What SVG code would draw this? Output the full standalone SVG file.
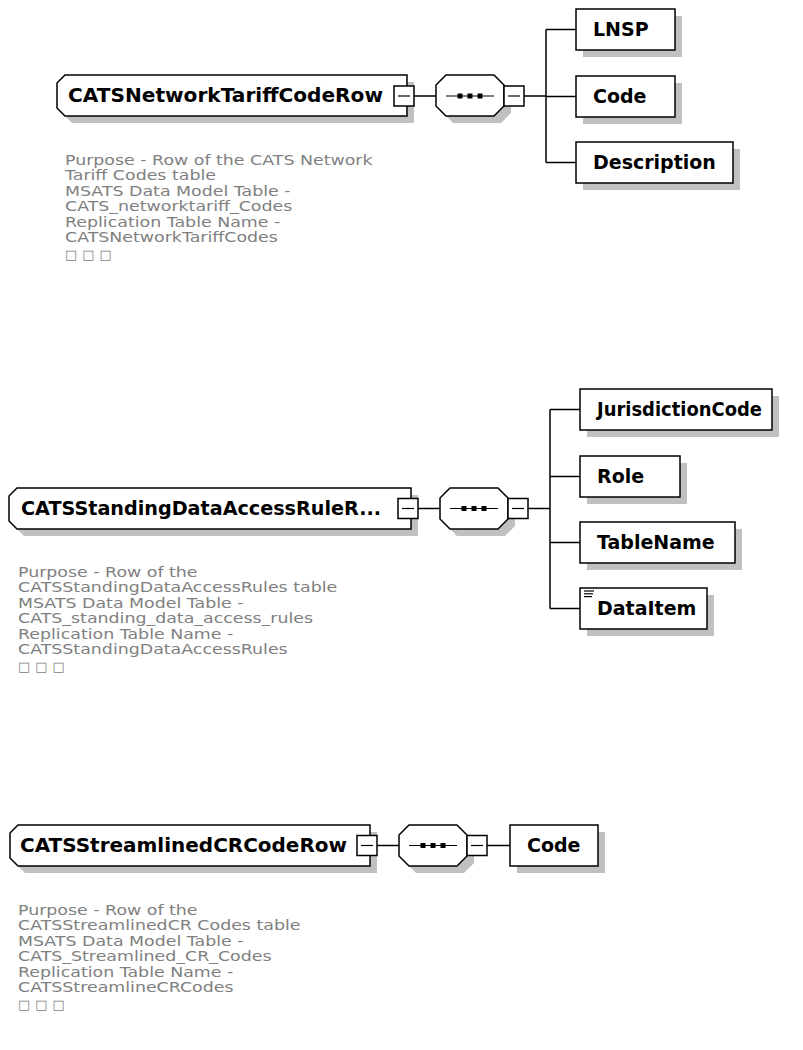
<svg xmlns="http://www.w3.org/2000/svg" width="803" height="1050" viewBox="0 0 803 1050">
<style>
.bg{fill:#ffffff}
.shape{fill:#ffffff;stroke:#000000;stroke-width:1.5}
.shadow{fill:#c0c0c0;stroke:none}
.line{stroke:#000000;stroke-width:1.5;fill:none}
.thin{stroke:#000000;stroke-width:1.2;fill:none}
.dot{fill:#000000}
.name{font-family:"DejaVu Sans",Verdana,sans-serif;font-weight:bold;font-size:19px;fill:#000000}
.main{font-family:"DejaVu Sans",Verdana,sans-serif;font-weight:bold;font-size:19.5px;fill:#000000}
.doc{font-family:"DejaVu Sans",Verdana,sans-serif;font-size:14.5px;fill:#808080}
.sq{font-family:"DejaVu Sans",sans-serif;font-size:13px;letter-spacing:5px;fill:#808080}
</style>
<defs>
<g id="minus"><rect class="shape" x="0" y="0" width="20" height="20"/><line class="thin" x1="4" y1="10" x2="16" y2="10"/></g>
<g id="seqicon"><line class="thin" x1="-24" y1="0" x2="24" y2="0"/><rect class="dot" x="-12.5" y="-2.5" width="5" height="5"/><rect class="dot" x="-2.5" y="-2.5" width="5" height="5"/><rect class="dot" x="7.5" y="-2.5" width="5" height="5"/></g>
</defs>
<rect class="bg" x="0" y="0" width="803" height="1050"/>

<!-- connectors -->
<g id="connectors">
<line class="line" x1="414" y1="96" x2="436" y2="96"/>
<line class="line" x1="524" y1="96" x2="546" y2="96"/>
<line class="line" x1="546" y1="29.5" x2="546" y2="162.5"/>
<line class="line" x1="546" y1="29.5" x2="576" y2="29.5"/>
<line class="line" x1="546" y1="96.5" x2="576" y2="96.5"/>
<line class="line" x1="546" y1="162.5" x2="576" y2="162.5"/>

<line class="line" x1="418" y1="508.5" x2="440" y2="508.5"/>
<line class="line" x1="528" y1="508.5" x2="550" y2="508.5"/>
<line class="line" x1="550" y1="409.5" x2="550" y2="608.5"/>
<line class="line" x1="550" y1="409.5" x2="580" y2="409.5"/>
<line class="line" x1="550" y1="476.5" x2="580" y2="476.5"/>
<line class="line" x1="550" y1="542.5" x2="580" y2="542.5"/>
<line class="line" x1="550" y1="608.5" x2="580" y2="608.5"/>

<line class="line" x1="377" y1="845.5" x2="399" y2="845.5"/>
<line class="line" x1="487" y1="845.5" x2="510" y2="845.5"/>
</g>

<!-- Row 1 -->
<g id="CATSNetworkTariffCodeRow">
<path class="shadow" d="M72,82 H414 V123 H72 L64,115 V90 Z"/>
<path class="shape" d="M65,75 H407 V116 H65 L57,108 V83 Z"/>
<text class="main" x="68" y="102" textLength="315" lengthAdjust="spacingAndGlyphs">CATSNetworkTariffCodeRow</text>
<use href="#minus" x="394" y="86"/>
<g transform="translate(65,0) scale(1.2,1)">
<text class="doc" x="0" y="165">Purpose - Row of the CATS Network</text>
<text class="doc" x="0" y="180.5">Tariff Codes table</text>
<text class="doc" x="0" y="196">MSATS Data Model Table -</text>
<text class="doc" x="0" y="211.5">CATS_networktariff_Codes</text>
<text class="doc" x="0" y="227">Replication Table Name -</text>
<text class="doc" x="0" y="242.5">CATSNetworkTariffCodes</text>
</g>
<text class="sq" x="65" y="259">□□□</text>
</g>
<g id="seq1">
<path class="shadow" d="M453,82 H501 L511,92 V113 L501,123 H453 L443,113 V92 Z"/>
<path class="shape" d="M446,75 H494 L504,85 V106 L494,116 H446 L436,106 V85 Z"/>
<use href="#seqicon" x="470" y="96"/>
<use href="#minus" x="504" y="86"/>
</g>
<g id="LNSP">
<rect class="shadow" x="583" y="16" width="99" height="41"/>
<rect class="shape" x="576" y="9" width="99" height="41"/>
<text class="name" x="593" y="36">LNSP</text>
</g>
<g id="Code1">
<rect class="shadow" x="583" y="83" width="99" height="41"/>
<rect class="shape" x="576" y="76" width="99" height="41"/>
<text class="name" x="593" y="103">Code</text>
</g>
<g id="Description">
<rect class="shadow" x="583" y="149" width="157" height="41"/>
<rect class="shape" x="576" y="142" width="157" height="41"/>
<text class="name" x="593" y="169">Description</text>
</g>

<!-- Row 2 -->
<g id="CATSStandingDataAccessRuleRow">
<path class="shadow" d="M24,495 H418 V536 H24 L16,528 V503 Z"/>
<path class="shape" d="M17,488 H411 V529 H17 L9,521 V496 Z"/>
<text class="main" x="21" y="515" textLength="360" lengthAdjust="spacingAndGlyphs">CATSStandingDataAccessRuleR...</text>
<use href="#minus" x="398" y="498.5"/>
<g transform="translate(18,0) scale(1.2,1)">
<text class="doc" x="0" y="577">Purpose - Row of the</text>
<text class="doc" x="0" y="592.5">CATSStandingDataAccessRules table</text>
<text class="doc" x="0" y="608">MSATS Data Model Table -</text>
<text class="doc" x="0" y="623.5">CATS_standing_data_access_rules</text>
<text class="doc" x="0" y="639">Replication Table Name -</text>
<text class="doc" x="0" y="654.5">CATSStandingDataAccessRules</text>
</g>
<text class="sq" x="18" y="671">□□□</text>
</g>
<g id="seq2">
<path class="shadow" d="M457,495 H505 L515,505 V526 L505,536 H457 L447,526 V505 Z"/>
<path class="shape" d="M450,488 H498 L508,498 V519 L498,529 H450 L440,519 V498 Z"/>
<use href="#seqicon" x="474" y="508.5"/>
<use href="#minus" x="508" y="498.5"/>
</g>
<g id="JurisdictionCode">
<rect class="shadow" x="587" y="396" width="192" height="41"/>
<rect class="shape" x="580" y="389" width="192" height="41"/>
<text class="name" x="597" y="416" textLength="165" lengthAdjust="spacingAndGlyphs">JurisdictionCode</text>
</g>
<g id="Role">
<rect class="shadow" x="587" y="463" width="100" height="41"/>
<rect class="shape" x="580" y="456" width="100" height="41"/>
<text class="name" x="597" y="483">Role</text>
</g>
<g id="TableName">
<rect class="shadow" x="587" y="529" width="155" height="41"/>
<rect class="shape" x="580" y="522" width="155" height="41"/>
<text class="name" x="597" y="549">TableName</text>
</g>
<g id="DataItem">
<rect class="shadow" x="587" y="595" width="127" height="41"/>
<rect class="shape" x="580" y="588" width="127" height="41"/>
<line class="thin" x1="584" y1="591" x2="594" y2="591"/>
<line class="thin" x1="584" y1="593.8" x2="593" y2="593.8"/>
<line class="thin" x1="584" y1="596.6" x2="592" y2="596.6"/>
<text class="name" x="597" y="615">DataItem</text>
</g>

<!-- Row 3 -->
<g id="CATSStreamlinedCRCodeRow">
<path class="shadow" d="M25,832 H377 V873 H25 L17,865 V840 Z"/>
<path class="shape" d="M18,825 H370 V866 H18 L10,858 V833 Z"/>
<text class="main" x="20" y="852" textLength="327" lengthAdjust="spacingAndGlyphs">CATSStreamlinedCRCodeRow</text>
<use href="#minus" x="357" y="835.5"/>
<g transform="translate(18,0) scale(1.2,1)">
<text class="doc" x="0" y="915">Purpose - Row of the</text>
<text class="doc" x="0" y="930.5">CATSStreamlinedCR Codes table</text>
<text class="doc" x="0" y="946">MSATS Data Model Table -</text>
<text class="doc" x="0" y="961.5">CATS_Streamlined_CR_Codes</text>
<text class="doc" x="0" y="977">Replication Table Name -</text>
<text class="doc" x="0" y="992.5">CATSStreamlineCRCodes</text>
</g>
<text class="sq" x="18" y="1009">□□□</text>
</g>
<g id="seq3">
<path class="shadow" d="M416,832 H464 L474,842 V863 L464,873 H416 L406,863 V842 Z"/>
<path class="shape" d="M409,825 H457 L467,835 V856 L457,866 H409 L399,856 V835 Z"/>
<use href="#seqicon" x="433" y="845.5"/>
<use href="#minus" x="467" y="835.5"/>
</g>
<g id="Code3">
<rect class="shadow" x="517" y="832" width="88" height="41"/>
<rect class="shape" x="510" y="825" width="88" height="41"/>
<text class="name" x="527" y="852">Code</text>
</g>
</svg>
